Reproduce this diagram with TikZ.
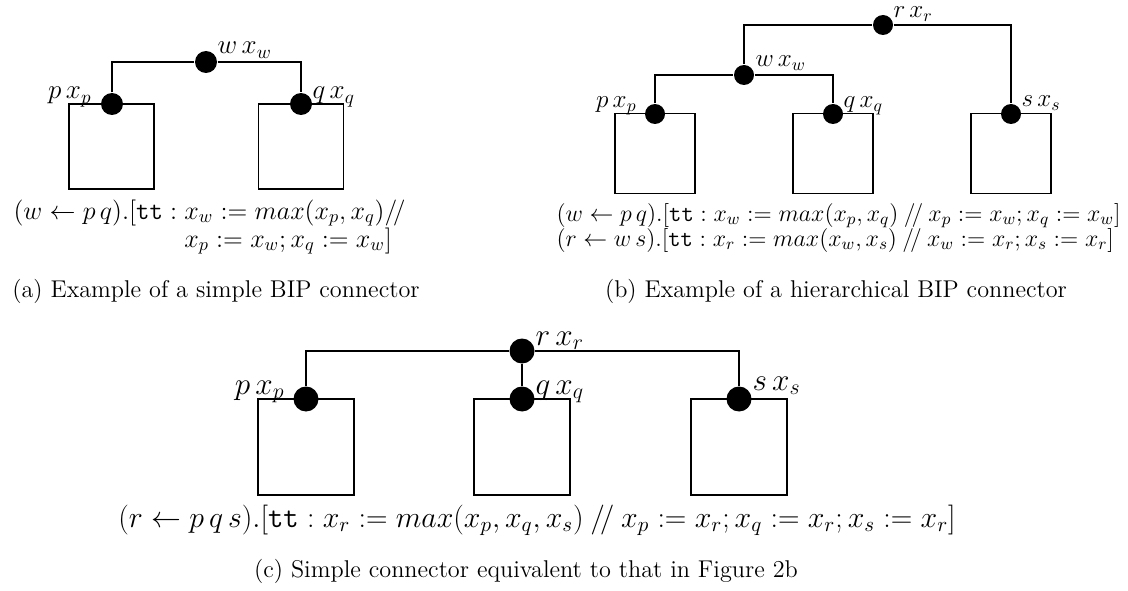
\RequirePackage{fix-cm}
\documentclass[tikz,border=0pt]{standalone}
\usetikzlibrary{positioning}
\begin{document}
\begin{tikzpicture}[x=0.02cm, y=-0.02cm, line width=0.6pt,
  comp/.style={draw, rectangle, inner sep=0pt},
  port/.style={circle, fill=black, inner sep=0pt},
  lbl/.style={inner sep=0pt},
  fml/.style={inner sep=0pt},
  subcap/.style={inner sep=0pt, anchor=base, font=\fontsize{13.8}{16}\selectfont}]
\useasboundingbox (0,0) rectangle (1128,591);

% (a) simple connector
\node[comp, minimum size=1.7cm] (ca1) at (111.5,146.5) {};
\node[comp, minimum size=1.7cm] (ca2) at (301,146.5) {};
\node[port, minimum size=0.44cm] (pa) at (112,104) {};
\node[port, minimum size=0.44cm] (qa) at (301,104) {};
\node[port, minimum size=0.44cm] (wa) at (206,62) {};
\draw (pa) |- (wa) -| (qa);
\node[lbl, anchor=base east, font=\fontsize{15.4}{18}\selectfont] (lpa) at (92,99) {$p\,x_p$};
\node[lbl, anchor=base west, font=\fontsize{15.4}{18}\selectfont] (lwa) at (217,54) {$w\,x_w$};
\node[lbl, anchor=base west, font=\fontsize{15.4}{18}\selectfont] (lqa) at (312,99) {$q\,x_q$};
\node[fml, anchor=base west, font=\fontsize{14.8}{17}\selectfont] (fa1) at (13,219)
  {$(w \leftarrow p\,q).[\mathtt{tt} : x_w := max(x_p, x_q) \mathbin{/\!/}$};
\node[fml, anchor=base west, font=\fontsize{14.8}{17}\selectfont] (fa2) at (13,247)
  {$\phantom{(w \leftarrow p\,q).[\mathtt{tt} : {}}x_p := x_w; x_q := x_w]$};
\node[subcap] (capa) at (216,297) {(a) Example of a simple BIP connector};

% (b) hierarchical connector
\node[comp, minimum size=1.6cm] (cb1) at (655,153.5) {};
\node[comp, minimum size=1.6cm] (cb2) at (833,153.5) {};
\node[comp, minimum size=1.6cm] (cb3) at (1011,153.5) {};
\node[port, minimum size=0.4cm] (pb) at (655,114) {};
\node[port, minimum size=0.4cm] (qb) at (833,114) {};
\node[port, minimum size=0.4cm] (sb) at (1011,114) {};
\node[port, minimum size=0.4cm] (wb) at (744,75) {};
\node[port, minimum size=0.4cm] (rb) at (883,25) {};
\draw (pb) |- (wb) -| (qb);
\draw (wb) |- (rb) -| (sb);
\node[lbl, anchor=base east, font=\fontsize{14.3}{17}\selectfont] (lpb) at (637,108) {$p\,x_p$};
\node[lbl, anchor=base west, font=\fontsize{14.3}{17}\selectfont] (lwb) at (755,67) {$w\,x_w$};
\node[lbl, anchor=base west, font=\fontsize{14.3}{17}\selectfont] (lqb) at (843,108) {$q\,x_q$};
\node[lbl, anchor=base west, font=\fontsize{14.3}{17}\selectfont] (lrb) at (893,18) {$r\,x_r$};
\node[lbl, anchor=base west, font=\fontsize{14.3}{17}\selectfont] (lsb) at (1021,107) {$s\,x_s$};
\node[fml, anchor=base west, font=\fontsize{13.6}{16}\selectfont] (fb1) at (556,221)
  {$(w \leftarrow p\,q).[\mathtt{tt} : x_w := max(x_p, x_q) \mathbin{/\!/} x_p := x_w; x_q := x_w]$};
\node[fml, anchor=base west, font=\fontsize{13.6}{16}\selectfont] (fb2) at (556,246)
  {$(r \leftarrow w\,s).[\mathtt{tt} : x_r := max(x_w, x_s) \mathbin{/\!/} x_w := x_r; x_s := x_r]$};
\node[subcap] (capb) at (836,297) {(b) Example of a hierarchical BIP connector};

% (c) flat equivalent
\node[comp, minimum size=1.92cm] (cc1) at (306,447) {};
\node[comp, minimum size=1.92cm] (cc2) at (522,447) {};
\node[comp, minimum size=1.92cm] (cc3) at (739,447) {};
\node[port, minimum size=0.5cm] (pc) at (306,399) {};
\node[port, minimum size=0.5cm] (qc) at (522,399) {};
\node[port, minimum size=0.5cm] (sc) at (739,399) {};
\node[port, minimum size=0.5cm] (rc) at (522,351) {};
\draw (pc) |- (rc) -| (sc);
\draw (rc) -- (qc);
\node[lbl, anchor=base east, font=\fontsize{17.8}{21}\selectfont] (lpc) at (285,394) {$p\,x_p$};
\node[lbl, anchor=base west, font=\fontsize{17.8}{21}\selectfont] (lqc) at (535,394) {$q\,x_q$};
\node[lbl, anchor=base west, font=\fontsize{17.8}{21}\selectfont] (lrc) at (535,345) {$r\,x_r$};
\node[lbl, anchor=base west, font=\fontsize{17.8}{21}\selectfont] (lsc) at (752,390) {$s\,x_s$};
\node[fml, anchor=base, font=\fontsize{17}{20}\selectfont] (fc) at (537,527)
  {$(r \leftarrow p\,q\,s).[\mathtt{tt} : x_r := max(x_p, x_q, x_s) \mathbin{/\!/} x_p := x_r; x_q := x_r; x_s := x_r]$};
\node[subcap] (capc) at (526,577) {(c) Simple connector equivalent to that in Figure 2b};
\end{tikzpicture}
\end{document}
